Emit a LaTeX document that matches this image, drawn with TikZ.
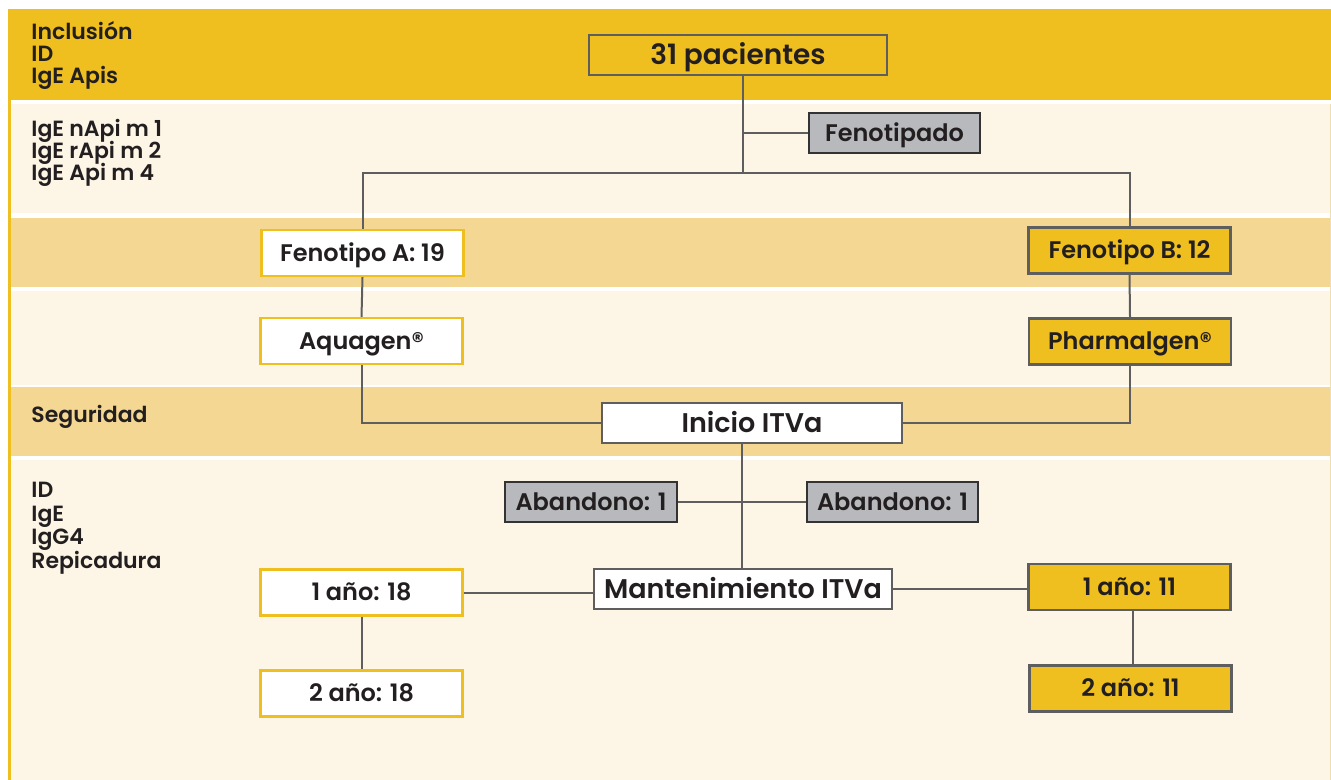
\documentclass[tikz,border=0pt]{standalone}
\usepackage{fontspec}
\setmainfont{Poppins}[UprightFont=* SemiBold, BoldFont=* Bold]
\definecolor{dkyel}{HTML}{EFBF1F}
\definecolor{ltyel}{HTML}{F4D792}
\definecolor{cream}{HTML}{FDF6E7}
\definecolor{gbox}{HTML}{B8B9BC}
\definecolor{lgray}{HTML}{5E5E5E}
\definecolor{txt}{HTML}{231F20}
\definecolor{rimline}{HTML}{F0DDB0}
\newcommand\sidefontA{\fontsize{11}{11}\selectfont\lineskiplimit -100pt\relax}
\newcommand\sidefontB{\fontsize{11}{11.75}\selectfont\lineskiplimit -100pt\relax}
\tikzset{
  box/.style={draw, line width=1.2pt, inner sep=0pt, text=txt, text height=8.4pt, text depth=0pt, font=\fontsize{12}{14}\selectfont},
  whitebox/.style={box, draw=dkyel, fill=white, minimum width=101pt, minimum height=23pt},
  yelbox/.style={box, draw=lgray, fill=dkyel, minimum width=101pt, minimum height=23pt},
  greybox/.style={box, draw=black!80, fill=gbox, minimum height=20pt},
  midbox/.style={box, draw=lgray, fill=white, minimum height=20pt, text height=9.4pt, font=\fontsize{13.5}{16}\selectfont},
  conn/.style={draw=lgray, line width=1pt},
  sidelabel/.style={anchor=west, inner sep=0pt, align=left, text=txt, font=\sidefontA}
}
\begin{document}
\begin{tikzpicture}[x=0.5pt, y=-0.5pt]
\useasboundingbox (0,0) rectangle (1331,780);
\fill[white] (0,0) rectangle (1331,780);
% bands
\fill[dkyel] (8,9) rectangle (1331,100);
\fill[cream] (11,104) rectangle (1331,213);
\fill[ltyel] (11,218) rectangle (1331,287);
\fill[cream] (11,291) rectangle (1331,385);
\fill[ltyel] (11,387) rectangle (1331,456);
\fill[cream] (11,460) rectangle (1331,780);
\fill[dkyel] (8,9) rectangle (11,780);
\draw[rimline, line width=0.5pt] (1330,104) -- (1330,780);

% side labels
\node[sidelabel] (l1) at (31,55.5) {Inclusión\\ID\\IgE Apis};
\node[sidelabel] (l2) at (31,152.5) {IgE nApi m 1\\IgE rApi m 2\\IgE Api m 4};
\node[sidelabel] (l3) at (31,417) {Seguridad};
\node[sidelabel, font=\sidefontB] (l4) at (31,528) {ID\\IgE\\IgG4\\Repicadura};

% nodes
\node[box, draw=lgray, fill=dkyel, minimum width=149pt, minimum height=20pt, text height=9.8pt, font=\fontsize{14}{16}\selectfont] (pac) at (738,55) {31 pacientes};
\node[greybox, minimum width=85.5pt] (fenotipado) at (894.5,133) {Fenotipado};
\node[whitebox] (fenA) at (362.5,253) {Fenotipo A: 19};
\node[yelbox] (fenB) at (1129.5,250.5) {Fenotipo B: 12};
\node[whitebox] (aqua) at (361.5,341) {Aquagen®};
\node[yelbox] (pharma) at (1130,341.5) {Pharmalgen®};
\node[midbox, minimum width=150pt] (inicio) at (752,423) {Inicio ITVa};
\node[greybox, minimum width=86pt] (abL) at (591,502) {Abandono: 1};
\node[greybox, minimum width=85.5pt] (abR) at (892.5,502) {Abandono: 1};
\node[midbox, minimum width=149pt] (mant) at (743,589) {Mantenimiento ITVa};
\node[whitebox] (a18) at (361.5,592.5) {1 año: 18};
\node[whitebox] (b18) at (361.5,693.5) {2 año: 18};
\node[yelbox] (a11) at (1129.5,587) {1 año: 11};
\node[yelbox] (b11) at (1130.5,688.5) {2 año: 11};

% junctions
\coordinate (j1) at (743,173);
\coordinate (j2) at (742,501);
\coordinate (j3) at (1133,600);

% connectors
\draw[conn] (pac.south -| j1) -- (j1);
\draw[conn] (fenA.north) |- (j1) -| (fenB.north);
\draw[conn] (fenotipado.west) -- (fenotipado.west -| j1);
\draw[conn] (fenA.south) -- (aqua.north);
\draw[conn] (fenB.south) -- (pharma.north);
\draw[conn] (aqua.south) |- (inicio.west);
\draw[conn] (pharma.south) |- (inicio.east);
\draw[conn] (inicio.south -| j2) -- (mant.north -| j2);
\draw[conn] (abL.east) -- (abR.west);
\draw[conn] (a18.east) -- (a18.east -| mant.west);
\draw[conn] (mant.east) -- (mant.east -| a11.west);
\draw[conn] (a18.south) -- (b18.north);
\draw[conn] (a11.south -| j3) -- (b11.north -| j3);
\end{tikzpicture}
\end{document}
